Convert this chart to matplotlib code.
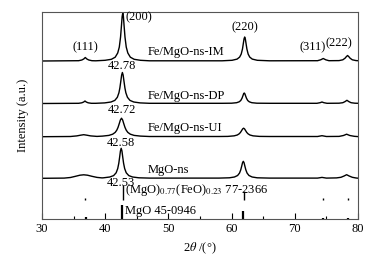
import matplotlib
matplotlib.use("Agg")
import matplotlib.pyplot as plt
from matplotlib.ticker import MultipleLocator

plt.rcParams['font.family'] = ['Liberation Serif', 'DejaVu Serif']
plt.rcParams['mathtext.fontset'] = 'stix'

# ---- data (intensity above each curve's baseline, a.u.) ----
im_x = [30, 35.8, 36.3, 36.6, 36.85, 37.1, 37.4, 37.9, 38.5,
        39.98, 40.98, 41.58, 41.98, 42.23, 42.43, 42.58, 42.68, 42.78, 42.88, 42.98, 43.13, 43.33, 43.58, 43.98, 44.58, 45.58,
        47, 58.5,
        60.07, 60.87, 61.27, 61.52, 61.72, 61.87, 61.97, 62.07, 62.17, 62.27, 62.42, 62.62, 62.87, 63.27, 64.07,
        66, 73.6, 74.1, 74.5, 74.9, 75.4,
        77.0, 77.6, 77.95, 78.15, 78.35, 78.55, 78.75, 79.1, 79.7, 80]
im_y = [0, 0.3, 1, 2, 3.5, 2, 1, 0.3, 0.2,
        0.7, 1.7, 3.8, 8, 13.9, 24, 36, 44.4, 48, 44.4, 36, 24, 13.9, 8, 3.8, 1.7, 0.7,
        0.2, 0.2,
        0.7, 1.9, 3.9, 6.9, 12, 18.1, 22.2, 24, 22.2, 18.1, 12, 6.9, 3.9, 1.9, 0.7,
        0.2, 0.3, 1.2, 2.5, 1.2, 0.3,
        0.4, 1.2, 2.8, 4.3, 5.5, 4.3, 2.8, 1.2, 0.4, 0.3]

dp_x = [30, 35.8, 36.3, 36.6, 36.8, 37.0, 37.3, 37.8, 38.5,
        39.92, 40.92, 41.52, 41.92, 42.17, 42.32, 42.47, 42.6, 42.72, 42.84, 42.97, 43.12, 43.27, 43.52, 43.92, 44.52, 45.52,
        47, 58.5,
        60.0, 60.8, 61.2, 61.45, 61.65, 61.8, 61.9, 62.0, 62.1, 62.2, 62.35, 62.55, 62.8, 63.2, 64.0,
        66, 73.5, 74.0, 74.3, 74.6, 75.1,
        77.0, 77.6, 77.95, 78.25, 78.55, 78.9, 79.5, 80]
dp_y = [0, 0.2, 0.7, 1.5, 2.5, 1.5, 0.7, 0.2, 0.2,
        0.6, 1.5, 3.1, 6.2, 10.7, 15.5, 22.3, 28.4, 31, 28.4, 22.3, 15.5, 10.7, 6.2, 3.1, 1.5, 0.6,
        0.2, 0.2,
        0.3, 0.8, 1.7, 3.0, 5.3, 7.9, 9.7, 10.5, 9.7, 7.9, 5.3, 3.0, 1.7, 0.8, 0.3,
        0.2, 0.2, 0.8, 1.5, 0.8, 0.2,
        0.3, 0.8, 1.9, 3.2, 1.9, 0.8, 0.3, 0.2]

ui_x = [30, 34.5, 35.5, 36.1, 36.6, 37.1, 37.7, 38.7,
        39.58, 40.58, 41.18, 41.58, 41.83, 42.03, 42.23, 42.4, 42.58, 42.76, 42.93, 43.13, 43.33, 43.58, 43.98, 44.58, 45.58,
        47, 58,
        59.4, 60.4, 60.9, 61.2, 61.4, 61.6, 61.75, 61.9, 62.05, 62.2, 62.4, 62.6, 62.9, 63.4, 64.4,
        66, 73.6, 74.3, 75.0,
        77.0, 77.7, 78.2, 78.7, 79.4, 80]
ui_y = [0, 0.2, 0.8, 1.5, 2, 1.5, 0.8, 0.3,
        0.6, 1.3, 2.5, 4.3, 6.5, 9.3, 13.2, 16.7, 18.5, 16.7, 13.2, 9.3, 6.5, 4.3, 2.5, 1.3, 0.6,
        0.2, 0.2,
        0.3, 0.85, 1.7, 2.9, 4.25, 6.25, 7.8, 8.5, 7.8, 6.25, 4.25, 2.9, 1.7, 0.85, 0.3,
        0.2, 0.2, 1, 0.2,
        0.3, 1.2, 2.5, 1.2, 0.4, 0.1]

mg_x = [30, 33.5, 34.5, 35.3, 36.0, 36.6, 37.2, 37.9, 38.7, 39.5,
        39.73, 40.73, 41.33, 41.73, 41.98, 42.15, 42.29, 42.41, 42.53, 42.65, 42.77, 42.91, 43.08, 43.33, 43.73, 44.33, 45.33,
        47, 58,
        59.65, 60.45, 60.95, 61.25, 61.45, 61.6, 61.73, 61.85, 61.97, 62.1, 62.25, 62.45, 62.75, 63.25, 64.05,
        66, 73.6, 74.3, 75.0,
        76.6, 77.3, 77.8, 78.2, 78.6, 79.1, 79.7, 80]
mg_y = [0, 0.2, 0.8, 2.0, 3.1, 3.5, 3.1, 2.0, 0.9, 0.4,
        0.5, 1.3, 2.7, 5.5, 9.7, 15, 21.4, 27.3, 30, 27.3, 21.4, 15, 9.7, 5.5, 2.7, 1.3, 0.5,
        0.2, 0.2,
        0.5, 1.3, 2.8, 5.2, 8.5, 12.2, 15.6, 17, 15.6, 12.2, 8.5, 5.2, 2.8, 1.3, 0.5,
        0.2, 0.2, 0.9, 0.2,
        0.4, 1.0, 2.3, 3.6, 2.3, 1.0, 0.3, 0.1]

sample_names = ["Fe/MgO-ns-IM", "Fe/MgO-ns-DP", "Fe/MgO-ns-UI", "MgO-ns"]
peak_200 = [42.78, 42.72, 42.58, 42.53]

card1_pos = [36.85, 42.85, 61.95, 74.4, 78.4]
card1_h = [2, 15, 9, 2, 2]
card2_pos = [36.9, 42.6, 61.85, 74.4, 78.4]
card2_h = [2, 14, 8, 1.5, 1.5]

hkl_labels = ["(111)", "(200)", "(220)", "(311)", "(222)"]

# ---- figure ----
fig = plt.figure(figsize=(3.77, 2.6), dpi=100)
ax = fig.add_axes([42 / 377, 41 / 260, 316 / 377, 207 / 260])
ax.set_xlim(30, 80)
ax.set_ylim(0, 207)

offsets = [158, 115.5, 82.3, 40.7]
curves = [(im_x, im_y), (dp_x, dp_y), (ui_x, ui_y), (mg_x, mg_y)]
for (xs, ys), off in zip(curves, offsets):
    ax.plot(xs, [v + off for v in ys], color='black', lw=1.0)

fs = 9
# sample names
name_y = [167, 123, 91, 49]
for name, yy in zip(sample_names, name_y):
    ax.text(46.7, yy, name, fontsize=fs, ha='left', va='center')

# peak position values
val_y = [153, 109, 76, 36]
for v, yy in zip(peak_200, val_y):
    ax.text(v - 0.1, yy, f"{v:.2f}", fontsize=fs, ha='center', va='center')

# hkl labels
ax.text(36.9, 172, hkl_labels[0], fontsize=fs, ha='center', va='center')
ax.text(43.15, 202, hkl_labels[1], fontsize=fs, ha='left', va='center')
ax.text(62.07, 192, hkl_labels[2], fontsize=fs, ha='center', va='center')
ax.text(72.8, 172, hkl_labels[3], fontsize=fs, ha='center', va='center')
ax.text(77.0, 176, hkl_labels[4], fontsize=fs, ha='center', va='center')

# reference cards
ax.vlines(card1_pos, 19, [19 + h for h in card1_h], color='black', lw=1.0)
ax.vlines(card2_pos, 0, card2_h, color='black', lw=1.6)
ax.text(43.2, 29, r"(MgO)$_{0.77}$(FeO)$_{0.23}$ 77-2366", fontsize=fs, ha='left', va='center')
ax.text(43.2, 8, "MgO 45-0946", fontsize=fs, ha='left', va='center')

# axes styling
for s in ax.spines.values():
    s.set_color('#555555')
    s.set_linewidth(0.8)
ax.xaxis.set_major_locator(MultipleLocator(10))
ax.xaxis.set_minor_locator(MultipleLocator(5))
ax.tick_params(axis='x', which='both', direction='in', top=False, labelsize=fs, pad=3)
ax.tick_params(axis='x', which='major', length=4, width=0.8)
ax.tick_params(axis='x', which='minor', length=2.5, width=0.8)
ax.set_yticks([])
ax.set_xlabel(r"2$\theta$ /(°)", fontsize=fs, labelpad=4)
ax.set_ylabel("Intensity (a.u.)", fontsize=fs)
ax.yaxis.set_label_coords(-0.042, 0.5)

fig.savefig("out.png", dpi=100)
